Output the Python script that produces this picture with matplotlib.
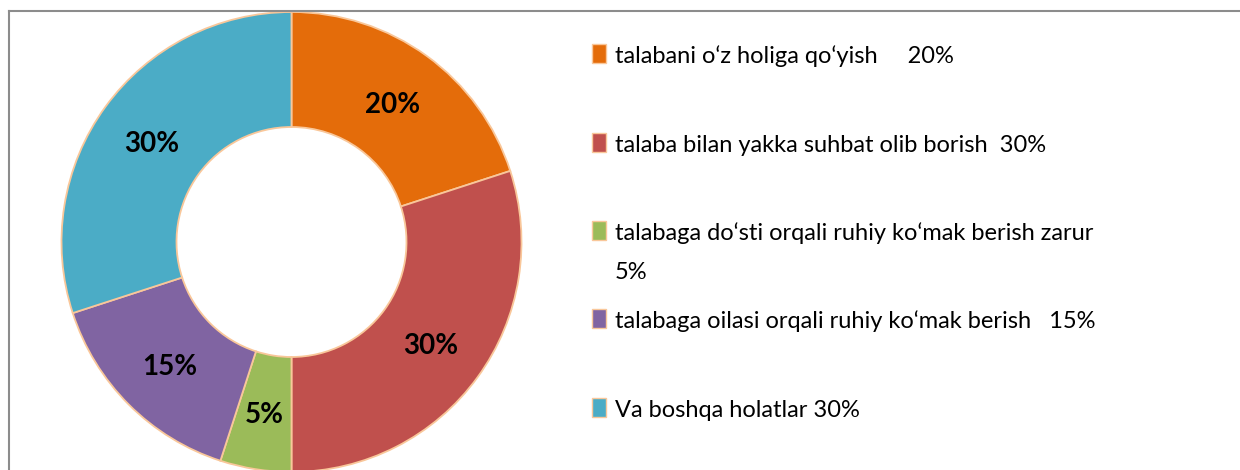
import numpy as np
import matplotlib.pyplot as plt
from matplotlib.patches import Rectangle
from matplotlib.lines import Line2D

labels = [
    "talabani o‘z holiga qo‘yish     20%",
    "talaba bilan yakka suhbat olib borish  30%",
    "talabaga do‘sti orqali ruhiy ko‘mak berish zarur\n5%",
    "talabaga oilasi orqali ruhiy ko‘mak berish   15%",
    "Va boshqa holatlar 30%",
]
values = [20, 30, 5, 15, 30]
colors = ["#E46C0A", "#C0504D", "#9BBB59", "#8064A2", "#4BACC6"]
edge = "#F9C79A"

W, H = 1240, 470
fig = plt.figure(figsize=(W / 100, H / 100), dpi=100)

# outer frame (only left and top edges are visible in the crop)
fig.add_artist(Line2D([9 / W, 9 / W], [0, 1 - 11 / H], transform=fig.transFigure,
                      color="#8C8C8C", lw=1.5))
fig.add_artist(Line2D([9 / W, 1], [1 - 11 / H, 1 - 11 / H], transform=fig.transFigure,
                      color="#8C8C8C", lw=1.5))

# donut axes: centre (291.5, 242) px, radius 230 px
cx, cy, r = 291.5, 242, 230
ax = fig.add_axes([(cx - r) / W, (H - cy - r) / H, 2 * r / W, 2 * r / H])
ax.pie(values, colors=colors, startangle=90, counterclock=False, radius=1,
       wedgeprops=dict(width=0.5, edgecolor=edge, linewidth=1.3))
ax.set_xlim(-1, 1)
ax.set_ylim(-1, 1)
ax.set_aspect("equal")
ax.axis("off")

ang = 90.0
for v in values:
    mid = np.deg2rad(ang - v * 3.6 / 2)
    ax.text(0.75 * np.cos(mid), 0.75 * np.sin(mid) - 0.013, f"{v}%", ha="center", va="center",
            fontsize=20, fontweight="bold", family="Lato", color="black")
    ang -= v * 3.6

# legend drawn by hand to keep Excel's uneven spacing
marker_y = [53, 142, 230, 318, 407]
for lab, col, my in zip(labels, colors, marker_y):
    fig.add_artist(Rectangle((592 / W, 1 - (my + 9.5) / H), 14 / W, 19 / H,
                             transform=fig.transFigure, facecolor=col,
                             edgecolor=edge, lw=1))
    for i, line in enumerate(lab.split("\n")):
        fig.text(615 / W, 1 - (my + 10 + 39 * i) / H, line, ha="left", va="baseline",
                 fontsize=17, family="Lato", color="black")

fig.savefig("out.png", dpi=100)
